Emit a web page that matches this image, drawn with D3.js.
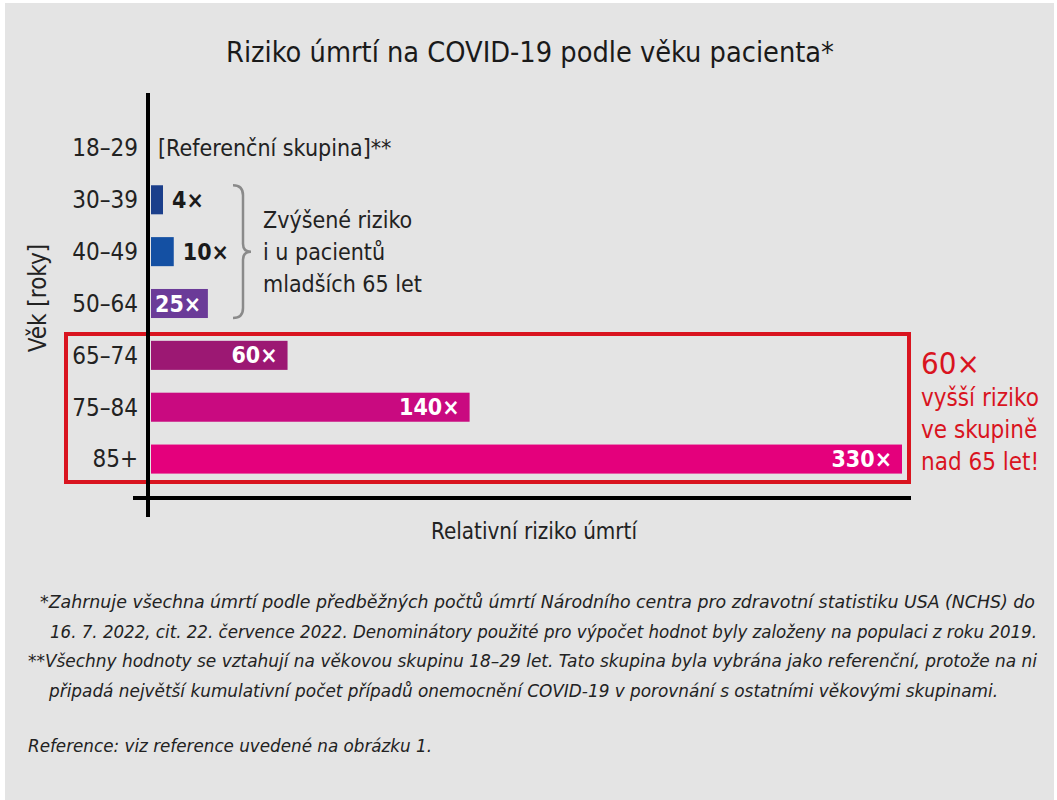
<!DOCTYPE html>
<html>
<head>
<meta charset="utf-8">
<script src="https://cdn.jsdelivr.net/npm/d3@7"></script>
<style>
  body { margin: 0; background: #fff; }
  svg text { font-family: "Liberation Sans Narrow", "DejaVu Sans Condensed", sans-serif; }
</style>
</head>
<body>
<svg width="1057" height="800"></svg>
<script>
// data
const AGE_GROUPS = ["18–29", "30–39", "40–49", "50–64", "65–74", "75–84", "85+"]
const RISK = [null, 4, 10, 25, 60, 140, 330]
const RISK_LABELS = ["[Referenční skupina]**", "4×", "10×", "25×", "60×", "140×", "330×"]
const BAR_COLORS = ["none", "#1b3f8b", "#1450a3", "#6b3b98", "#9c1873", "#c90a80", "#e4007c"]
const FOOTNOTES = [
  "*Zahrnuje všechna úmrtí podle předběžných počtů úmrtí Národního centra pro zdravotní statistiku USA (NCHS) do",
  "16. 7. 2022, cit. 22. července 2022. Denominátory použité pro výpočet hodnot byly založeny na populaci z roku 2019.",
  "**Všechny hodnoty se vztahují na věkovou skupinu 18–29 let. Tato skupina byla vybrána jako referenční, protože na ni",
  "připadá největší kumulativní počet případů onemocnění COVID-19 v porovnání s ostatními věkovými skupinami."
]
const BRACE_TEXT = ["Zvýšené riziko", "i u pacientů", "mladších 65 let"]
const HIGHLIGHT_TEXT = ["vyšší riziko", "ve skupině", "nad 65 let!"]

const svg = d3.select("svg")

svg.append("rect")
  .attr("x", 5).attr("y", 3).attr("width", 1049).attr("height", 797)
  .attr("fill", "#e4e4e4")

const x = d3.scaleLinear().domain([0, 330]).range([151, 902])
const y = d3.scaleBand().domain(AGE_GROUPS).range([122, 485]).paddingInner(0.44).paddingOuter(0.22)

// title
svg.append("text")
  .attr("x", 226).attr("y", 62)
  .attr("font-size", 28)
  .attr("textLength", 608)
  .attr("lengthAdjust", "spacingAndGlyphs")
  .attr("fill", "#1a1a1a")
  .text("Riziko úmrtí na COVID-19 podle věku pacienta*")

// bars
const rows = AGE_GROUPS.map((g, i) => ({group: g, value: RISK[i], label: RISK_LABELS[i], color: BAR_COLORS[i]}))

svg.selectAll(".bar")
  .data(rows.filter(d => d.value != null))
  .enter()
  .append("rect")
  .classed("bar", true)
  .attr("x", x(0))
  .attr("y", d => y(d.group))
  .attr("width", d => Math.max(x(d.value) - x(0), 12))
  .attr("height", y.bandwidth())
  .attr("fill", d => d.color)

// value labels
svg.selectAll(".val")
  .data(rows)
  .enter()
  .append("text")
  .classed("val", true)
  .attr("y", d => y(d.group) + y.bandwidth() / 2)
  .attr("dy", "0.35em")
  .attr("font-size", 23)
  .each(function(d) {
    const t = d3.select(this)
    if (d.value == null) {
      t.attr("x", 158).attr("fill", "#222").text(d.label)
    } else if (d.value < 20) {
      t.attr("x", Math.max(x(d.value), x(0) + 12) + 9).attr("fill", "#1a1a1a").attr("font-weight", "bold").text(d.label)
    } else if (d.value < 40) {
      t.attr("x", x(0) + 4).attr("fill", "#fff").attr("font-weight", "bold").text(d.label)
    } else {
      t.attr("x", x(d.value) - 10).attr("text-anchor", "end").attr("fill", "#fff").attr("font-weight", "bold").text(d.label)
    }
  })

// category labels
svg.selectAll(".cat")
  .data(AGE_GROUPS)
  .enter()
  .append("text")
  .classed("cat", true)
  .attr("x", 138)
  .attr("y", d => y(d) + y.bandwidth() / 2)
  .attr("dy", "0.35em")
  .attr("text-anchor", "end")
  .attr("font-size", 24)
  .attr("fill", "#222")
  .text(d => d)

// red highlight box
svg.append("rect")
  .attr("x", 66).attr("y", 334)
  .attr("width", 843).attr("height", 148)
  .attr("fill", "none")
  .attr("stroke", "#d9141f")
  .attr("stroke-width", 4)

// axes
svg.append("line")
  .attr("x1", 148).attr("x2", 148).attr("y1", 93).attr("y2", 517)
  .attr("stroke", "#000").attr("stroke-width", 4)
svg.append("line")
  .attr("x1", 133).attr("x2", 911).attr("y1", 498).attr("y2", 498)
  .attr("stroke", "#000").attr("stroke-width", 4)

svg.append("text")
  .attr("x", 534).attr("y", 539)
  .attr("text-anchor", "middle")
  .attr("font-size", 23)
  .attr("textLength", 206)
  .attr("lengthAdjust", "spacingAndGlyphs")
  .attr("fill", "#222")
  .text("Relativní riziko úmrtí")

svg.append("text")
  .attr("transform", "translate(46,298) rotate(-90)")
  .attr("text-anchor", "middle")
  .attr("font-size", 24)
  .attr("fill", "#222")
  .text("Věk [roky]")

// brace
const b0 = y("30–39"), b1 = y("50–64") + y.bandwidth()
const bm = (b0 + b1) / 2
svg.append("path")
  .attr("d", `M233,${b0} Q243,${b0} 243,${b0 + 10} L243,${bm - 8} Q243,${bm} 251,${bm} Q243,${bm} 243,${bm + 8} L243,${b1 - 10} Q243,${b1} 233,${b1}`)
  .attr("fill", "none")
  .attr("stroke", "#8a8a8a")
  .attr("stroke-width", 2.5)

svg.selectAll(".brace-txt")
  .data(BRACE_TEXT)
  .enter()
  .append("text")
  .classed("brace-txt", true)
  .attr("x", 263)
  .attr("y", (d, i) => 228 + i * 32)
  .attr("font-size", 23)
  .attr("fill", "#222")
  .text(d => d)

// right annotation
svg.append("text")
  .attr("x", 921).attr("y", 374)
  .attr("font-size", 31)
  .attr("fill", "#d9141f")
  .text("60×")

svg.selectAll(".hl-txt")
  .data(HIGHLIGHT_TEXT)
  .enter()
  .append("text")
  .classed("hl-txt", true)
  .attr("x", 921)
  .attr("y", (d, i) => 406 + i * 32)
  .attr("font-size", 24)
  .attr("fill", "#d9141f")
  .text(d => d)

// footnotes
const fnX = [40, 50, 28, 49]
const fnW = [995, 987, 1009, 949]
svg.selectAll(".fn")
  .data(FOOTNOTES)
  .enter()
  .append("text")
  .classed("fn", true)
  .attr("x", (d, i) => fnX[i])
  .attr("y", (d, i) => 608 + i * 29.5)
  .attr("font-size", 18)
  .attr("font-style", "italic")
  .attr("textLength", (d, i) => fnW[i])
  .attr("lengthAdjust", "spacingAndGlyphs")
  .attr("fill", "#222")
  .text(d => d)

svg.append("text")
  .attr("x", 28).attr("y", 752)
  .attr("font-size", 18)
  .attr("font-style", "italic")
  .attr("textLength", 404)
  .attr("lengthAdjust", "spacingAndGlyphs")
  .attr("fill", "#222")
  .text("Reference: viz reference uvedené na obrázku 1.")
</script>
</body>
</html>
